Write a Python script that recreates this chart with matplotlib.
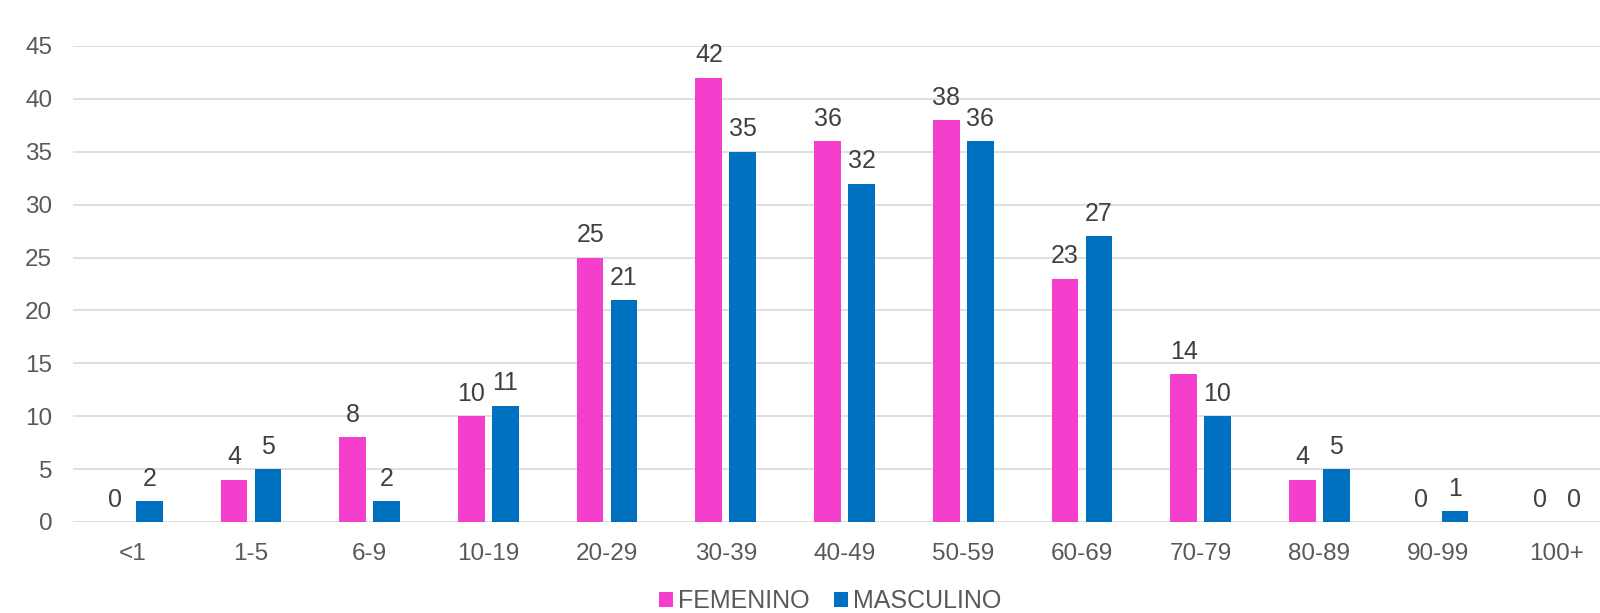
import matplotlib
matplotlib.use("Agg")
import matplotlib.pyplot as plt
import numpy as np

categories = ["<1", "1-5", "6-9", "10-19", "20-29", "30-39", "40-49", "50-59",
              "60-69", "70-79", "80-89", "90-99", "100+"]
femenino = [0, 4, 8, 10, 25, 42, 36, 38, 23, 14, 4, 0, 0]
masculino = [2, 5, 2, 11, 21, 35, 32, 36, 27, 10, 5, 1, 0]
yticks = [0, 5, 10, 15, 20, 25, 30, 35, 40, 45]

plt.rcParams['font.family'] = ['Liberation Sans', 'DejaVu Sans']

W, H = 1600, 613
fig = plt.figure(figsize=(W / 100, H / 100), dpi=100)
left, right, bottom, top = 73, 1616, 522, 46
ax = fig.add_axes([left / W, 1 - bottom / H, (right - left) / W, (bottom - top) / H])

pink = "#F43FCD"
blue = "#0070C0"
x = np.arange(len(categories))
off, bw = 0.143, 0.225
b1 = ax.bar(x - off, femenino, bw, color=pink, label="FEMENINO", zorder=3)
b2 = ax.bar(x + off, masculino, bw, color=blue, label="MASCULINO", zorder=3)

for bars, vals in ((b1, femenino), (b2, masculino)):
    for r, v in zip(bars, vals):
        ax.annotate(str(v), (r.get_x() + r.get_width() / 2, v), xytext=(0, 11),
                    textcoords="offset points", ha="center", va="baseline",
                    fontsize=18, color="#404040", annotation_clip=False)

ax.set_xlim(-0.5, 12.5)
ax.set_ylim(0, 45)
ax.set_yticks(yticks)
ax.set_xticks(x)
ax.set_xticklabels(categories)
ax.grid(axis="y", color="#D9D9D9", linewidth=1.2, zorder=0)
ax.tick_params(axis="both", length=0, labelsize=17.5, labelcolor="#595959")
ax.tick_params(axis="y", pad=15)
ax.tick_params(axis="x", pad=15)
for s in ax.spines.values():
    s.set_visible(False)

fig.legend(handles=[b1, b2], loc="center", bbox_to_anchor=(830 / W, 1 - 601 / H),
           ncol=2, frameon=False, fontsize=18, labelcolor="#595959",
           handlelength=0.55, handleheight=0.55, handletextpad=0.2, columnspacing=1.0)

fig.savefig("out.png", dpi=100)
